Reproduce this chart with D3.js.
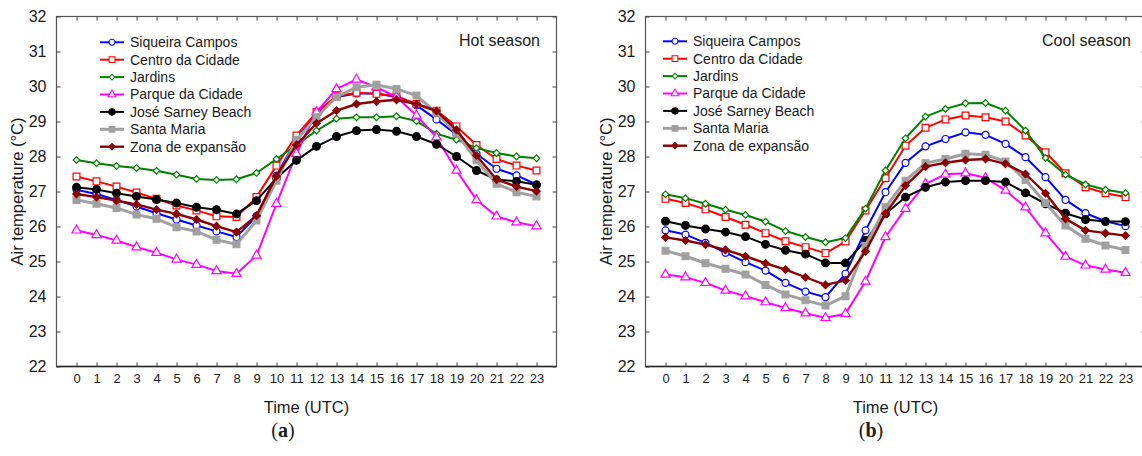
<!DOCTYPE html>
<html>
<head>
<meta charset="utf-8">
<script src="https://cdn.jsdelivr.net/npm/d3@7"></script>
<style>
  html, body { margin: 0; padding: 0; background: #fff; }
  svg { display: block; }
  text { font-family: "Liberation Sans", Arial, sans-serif; fill: #1a1a1a; }
</style>
</head>
<body>
<svg id="chart" width="1142" height="456"></svg>
<script>
// Hours of the day (UTC)
const hours = d3.range(0, 24);
const yTicks = [22, 23, 24, 25, 26, 27, 28, 29, 30, 31, 32];

const stations = ["Siqueira Campos", "Centro da Cidade", "Jardins", "Parque da Cidade",
                  "José Sarney Beach", "Santa Maria", "Zona de expansão"];

// Hot season mean air temperature (°C) per hour
const hotSiqueira = [27.05, 26.93, 26.76, 26.57, 26.38, 26.20, 26.03, 25.86, 25.70, 26.30, 27.45, 28.50,
                     29.20, 29.70, 29.80, 29.80, 29.70, 29.46, 29.06, 28.62, 28.08, 27.65, 27.46, 27.20];
const hotCentro   = [27.43, 27.29, 27.14, 26.97, 26.79, 26.60, 26.46, 26.29, 26.27, 26.84, 27.74, 28.60,
                     29.27, 29.72, 29.82, 29.79, 29.72, 29.50, 29.31, 28.86, 28.33, 27.93, 27.74, 27.60];
const hotJardins  = [27.90, 27.81, 27.73, 27.67, 27.59, 27.48, 27.36, 27.33, 27.35, 27.53, 27.93, 28.33,
                     28.74, 29.08, 29.12, 29.12, 29.15, 29.01, 28.65, 28.48, 28.24, 28.10, 28.00, 27.95];
const hotParque   = [25.89, 25.76, 25.60, 25.41, 25.25, 25.06, 24.91, 24.73, 24.65, 25.17, 26.65, 28.08,
                     29.27, 29.93, 30.20, 29.98, 29.70, 29.17, 28.55, 27.60, 26.76, 26.29, 26.12, 26.01];
const hotJose     = [27.12, 27.06, 26.95, 26.86, 26.77, 26.67, 26.55, 26.48, 26.36, 26.74, 27.38, 27.89,
                     28.29, 28.57, 28.74, 28.77, 28.72, 28.57, 28.35, 28.00, 27.60, 27.34, 27.29, 27.19];
const hotSanta    = [26.76, 26.65, 26.53, 26.34, 26.22, 25.98, 25.86, 25.62, 25.49, 26.17, 27.31, 28.48,
                     29.12, 29.70, 29.98, 30.05, 29.93, 29.74, 29.25, 28.66, 27.89, 27.22, 26.98, 26.86];
const hotZona     = [26.93, 26.84, 26.74, 26.63, 26.48, 26.36, 26.20, 26.01, 25.84, 26.31, 27.44, 28.33,
                     28.95, 29.31, 29.50, 29.57, 29.62, 29.50, 29.30, 28.76, 28.03, 27.34, 27.14, 27.01];

// Cool season mean air temperature (°C) per hour
const coolSiqueira = [25.89, 25.77, 25.53, 25.25, 24.98, 24.74, 24.39, 24.14, 23.98, 24.65, 25.89, 26.98,
                      27.82, 28.29, 28.50, 28.69, 28.62, 28.36, 27.98, 27.41, 26.76, 26.38, 26.15, 26.01];
const coolCentro   = [26.79, 26.67, 26.49, 26.27, 26.05, 25.81, 25.58, 25.41, 25.24, 25.57, 26.46, 27.38,
                      28.31, 28.82, 29.06, 29.17, 29.12, 29.00, 28.60, 28.12, 27.52, 27.12, 26.95, 26.84];
const coolJardins  = [26.92, 26.81, 26.65, 26.48, 26.33, 26.14, 25.87, 25.70, 25.55, 25.67, 26.51, 27.60,
                      28.52, 29.14, 29.36, 29.52, 29.53, 29.31, 28.74, 27.96, 27.48, 27.20, 27.05, 26.96];
const coolParque   = [24.63, 24.55, 24.39, 24.17, 24.01, 23.84, 23.67, 23.52, 23.39, 23.51, 24.43, 25.70,
                      26.51, 27.22, 27.49, 27.52, 27.39, 27.03, 26.55, 25.81, 25.14, 24.89, 24.77, 24.68];
const coolJose     = [26.15, 26.03, 25.93, 25.84, 25.71, 25.49, 25.32, 25.21, 24.96, 24.96, 25.60, 26.36,
                      26.84, 27.12, 27.27, 27.31, 27.31, 27.27, 26.96, 26.65, 26.38, 26.20, 26.14, 26.14];
const coolSanta    = [25.31, 25.15, 24.95, 24.79, 24.63, 24.33, 24.06, 23.89, 23.74, 24.01, 25.45, 26.55,
                      27.31, 27.81, 27.93, 28.08, 28.05, 27.86, 27.33, 26.67, 26.03, 25.65, 25.46, 25.33];
const coolZona     = [25.69, 25.60, 25.48, 25.33, 25.15, 24.95, 24.77, 24.55, 24.33, 24.46, 25.29, 26.37,
                      27.17, 27.71, 27.82, 27.90, 27.93, 27.79, 27.50, 26.95, 26.22, 25.89, 25.81, 25.74];

const hotSeries  = [hotSiqueira, hotCentro, hotJardins, hotParque, hotJose, hotSanta, hotZona];
const coolSeries = [coolSiqueira, coolCentro, coolJardins, coolParque, coolJose, coolSanta, coolZona];

// Line colour, marker shape, marker fill and stroke width for each station
const styles = [
  { color: "#0000ff", shape: "circle",   filled: false, size: 38, width: 2 },
  { color: "#ff0000", shape: "square",   filled: false, size: 46, width: 2 },
  { color: "#008000", shape: "diamond",  filled: false, size: 22, width: 2 },
  { color: "#ff00ff", shape: "triangle", filled: false, size: 36, width: 2 },
  { color: "#000000", shape: "circle",   filled: true,  size: 46, width: 2 },
  { color: "#a0a0a0", shape: "square",   filled: true,  size: 46, width: 3 },
  { color: "#8b0000", shape: "diamond",  filled: true,  size: 28, width: 2.4 }
];

const svg = d3.select("#chart");

function markerPath(st) {
  const type = st.shape === "circle" ? d3.symbolCircle
             : st.shape === "triangle" ? d3.symbolTriangle
             : d3.symbolSquare;
  return d3.symbol().type(type).size(st.size)();
}

function drawPanel(opts) {
  const x = d3.scaleLinear().domain([-1, 24]).range([opts.left, opts.left + 500]);
  const y = d3.scaleLinear().domain([22, 32]).range([366.5, 16.5]);
  const g = svg.append("g");
  const x0 = opts.left, x1 = opts.left + 500;

  // Frame with inward ticks on all four sides
  g.append("rect").attr("x", x0).attr("y", y(32)).attr("width", 500).attr("height", y(22) - y(32))
    .attr("fill", "none").attr("stroke", "#555").attr("stroke-width", 1.2);
  g.append("line").attr("x1", x0).attr("x2", x1).attr("y1", y(22)).attr("y2", y(22))
    .attr("stroke", "#222").attr("stroke-width", 1.3);

  const yl = d3.axisLeft(y).tickValues(yTicks).tickSize(-4).tickPadding(10).tickFormat(d3.format("d"));
  const ya = g.append("g").attr("transform", `translate(${x0},0)`).call(yl);
  ya.select(".domain").remove();
  ya.selectAll("line").attr("stroke", "#444");
  ya.selectAll("text").style("font-size", "16px").attr("fill", "#1a1a1a");

  const yr = d3.axisRight(y).tickValues(yTicks).tickSize(-4).tickFormat("");
  const yra = g.append("g").attr("transform", `translate(${x1},0)`).call(yr);
  yra.select(".domain").remove();
  yra.selectAll("line").attr("stroke", "#444");

  const xb = d3.axisBottom(x).tickValues(hours).tickSize(-4).tickPadding(7).tickFormat(d3.format("d"));
  const xa = g.append("g").attr("transform", `translate(0,${y(22)})`).call(xb);
  xa.select(".domain").remove();
  xa.selectAll("line").attr("stroke", "#444");
  xa.selectAll("text").style("font-size", "13px").attr("fill", "#1a1a1a");

  const xt = d3.axisTop(x).tickValues(hours).tickSize(-4).tickFormat("");
  const xta = g.append("g").attr("transform", `translate(0,${y(32)})`).call(xt);
  xta.select(".domain").remove();
  xta.selectAll("line").attr("stroke", "#444");

  // Series lines and markers
  const line = d3.line().x((d, i) => x(hours[i])).y(d => y(d));
  opts.series.forEach((vals, k) => {
    const st = styles[k];
    g.append("path").datum(vals).attr("d", line)
      .attr("fill", "none").attr("stroke", st.color).attr("stroke-width", st.width)
      .attr("stroke-linejoin", "round");
    const p = markerPath(st);
    g.selectAll(null).data(vals).enter().append("path")
      .attr("d", p)
      .attr("transform", (d, i) => `translate(${x(hours[i])},${y(d)})` + (st.shape === "diamond" ? " rotate(45)" : ""))
      .attr("fill", st.filled ? st.color : "#fff")
      .attr("stroke", st.color).attr("stroke-width", 1.2);
  });

  // Legend
  stations.forEach((name, k) => {
    const st = styles[k];
    const ly = opts.legendY + k * 17.4;
    g.append("line").attr("x1", opts.legendX).attr("x2", opts.legendX + 24)
      .attr("y1", ly).attr("y2", ly).attr("stroke", st.color).attr("stroke-width", st.width);
    g.append("path").attr("d", markerPath(st))
      .attr("transform", `translate(${opts.legendX + 12},${ly})` + (st.shape === "diamond" ? " rotate(45)" : "") + " scale(0.85)")
      .attr("fill", st.filled ? st.color : "#fff")
      .attr("stroke", st.color).attr("stroke-width", 1.2);
    g.append("text").attr("x", opts.legendX + 30).attr("y", ly).attr("dy", "0.35em")
      .style("font-size", "14px").text(name);
  });

  // Season label
  g.append("text").attr("x", opts.seasonX).attr("y", 40).attr("dy", "0.35em")
    .attr("text-anchor", "end").style("font-size", "16px").text(opts.season);

  // Axis titles
  g.append("text").attr("transform", `translate(${x0 - 39},${y(27)}) rotate(-90)`)
    .attr("text-anchor", "middle").attr("dy", "0.35em").style("font-size", "16.5px")
    .text("Air temperature (°C)");
  g.append("text").attr("x", (x0 + x1) / 2).attr("y", 413)
    .attr("text-anchor", "middle").style("font-size", "16.5px").text("Time (UTC)");

  // Panel letter
  const lt = g.append("text").attr("x", opts.letterX).attr("y", 437).attr("text-anchor", "middle")
    .style("font-family", "'Liberation Serif', 'DejaVu Serif', serif").style("font-size", "20px");
  lt.append("tspan").text("(");
  lt.append("tspan").style("font-weight", "bold").text(opts.letter);
  lt.append("tspan").text(")");
}

drawPanel({ left: 56.5, series: hotSeries, season: "Hot season", seasonX: 540,
            legendX: 100, legendY: 42.3, letter: "a", letterX: 283 });
drawPanel({ left: 645.5, series: coolSeries, season: "Cool season", seasonX: 1131,
            legendX: 663, legendY: 41.3, letter: "b", letterX: 871 });
</script>
</body>
</html>
